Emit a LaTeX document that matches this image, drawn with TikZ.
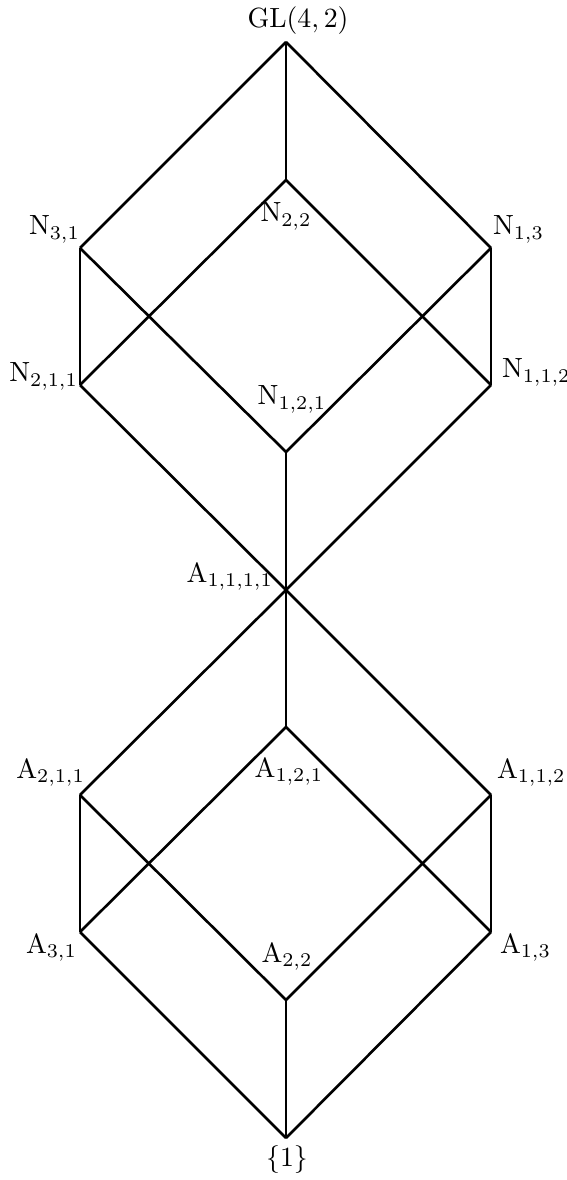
\documentclass[tikz,border=0pt]{standalone}
\begin{document}
\begin{tikzpicture}[x=0.36pt,y=-0.36pt,
  edge/.style={line width=0.95pt},
  lbl/.style={inner sep=0pt,outer sep=0pt}]
\useasboundingbox (0,0) rectangle (566,1180);
% lattice points
\coordinate (gl)   at (286,42);
\coordinate (n22)  at (286,180);
\coordinate (n31)  at (80,248);
\coordinate (n13)  at (491,248);
\coordinate (n211) at (80,385);
\coordinate (n112) at (491,385);
\coordinate (n121) at (286,452);
\coordinate (a1111) at (286,590);
\coordinate (a121) at (286,727);
\coordinate (a211) at (80,795);
\coordinate (a112) at (491,795);
\coordinate (a31)  at (80,932);
\coordinate (a13)  at (491,932);
\coordinate (a22)  at (286,1000);
\coordinate (one)  at (286,1138);
% upper cube
\draw[edge] (gl) -- (n22);
\draw[edge] (gl) -- (n31);
\draw[edge] (gl) -- (n13);
\draw[edge] (n22) -- (n211);
\draw[edge] (n22) -- (n112);
\draw[edge] (n31) -- (n211);
\draw[edge] (n31) -- (n121);
\draw[edge] (n13) -- (n121);
\draw[edge] (n13) -- (n112);
\draw[edge] (n211) -- (a1111);
\draw[edge] (n112) -- (a1111);
\draw[edge] (n121) -- (a1111);
% lower cube
\draw[edge] (a1111) -- (a121);
\draw[edge] (a1111) -- (a211);
\draw[edge] (a1111) -- (a112);
\draw[edge] (a121) -- (a31);
\draw[edge] (a121) -- (a13);
\draw[edge] (a211) -- (a31);
\draw[edge] (a211) -- (a22);
\draw[edge] (a112) -- (a22);
\draw[edge] (a112) -- (a13);
\draw[edge] (a31) -- (one);
\draw[edge] (a13) -- (one);
\draw[edge] (a22) -- (one);
% labels
\node[lbl,anchor=base] (tgl) at (298,28) {$\mathrm{GL}(4,2)$};
\node[lbl,anchor=base] (tn22) at (286,222) {$\mathrm{N}_{2,2}$};
\node[lbl,anchor=base east] (tn31) at (80,235) {$\mathrm{N}_{3,1}$};
\node[lbl,anchor=base west] (tn13) at (493,235) {$\mathrm{N}_{1,3}$};
\node[lbl,anchor=base east] (tn211) at (78,382) {$\mathrm{N}_{2,1,1}$};
\node[lbl,anchor=base west] (tn112) at (502,378) {$\mathrm{N}_{1,1,2}$};
\node[lbl,anchor=base] (tn121) at (292,405) {$\mathrm{N}_{1,2,1}$};
\node[lbl,anchor=base east] (ta1111) at (273,582) {$\mathrm{A}_{1,1,1,1}$};
\node[lbl,anchor=base] (ta121) at (289,777) {$\mathrm{A}_{1,2,1}$};
\node[lbl,anchor=base east] (ta211) at (85,778) {$\mathrm{A}_{2,1,1}$};
\node[lbl,anchor=base west] (ta112) at (497,778) {$\mathrm{A}_{1,1,2}$};
\node[lbl,anchor=base east] (ta31) at (77,953) {$\mathrm{A}_{3,1}$};
\node[lbl,anchor=base west] (ta13) at (500,953) {$\mathrm{A}_{1,3}$};
\node[lbl,anchor=base] (ta22) at (287,962) {$\mathrm{A}_{2,2}$};
\node[lbl,anchor=base] (tone) at (287,1166) {$\{1\}$};
\end{tikzpicture}
\end{document}
